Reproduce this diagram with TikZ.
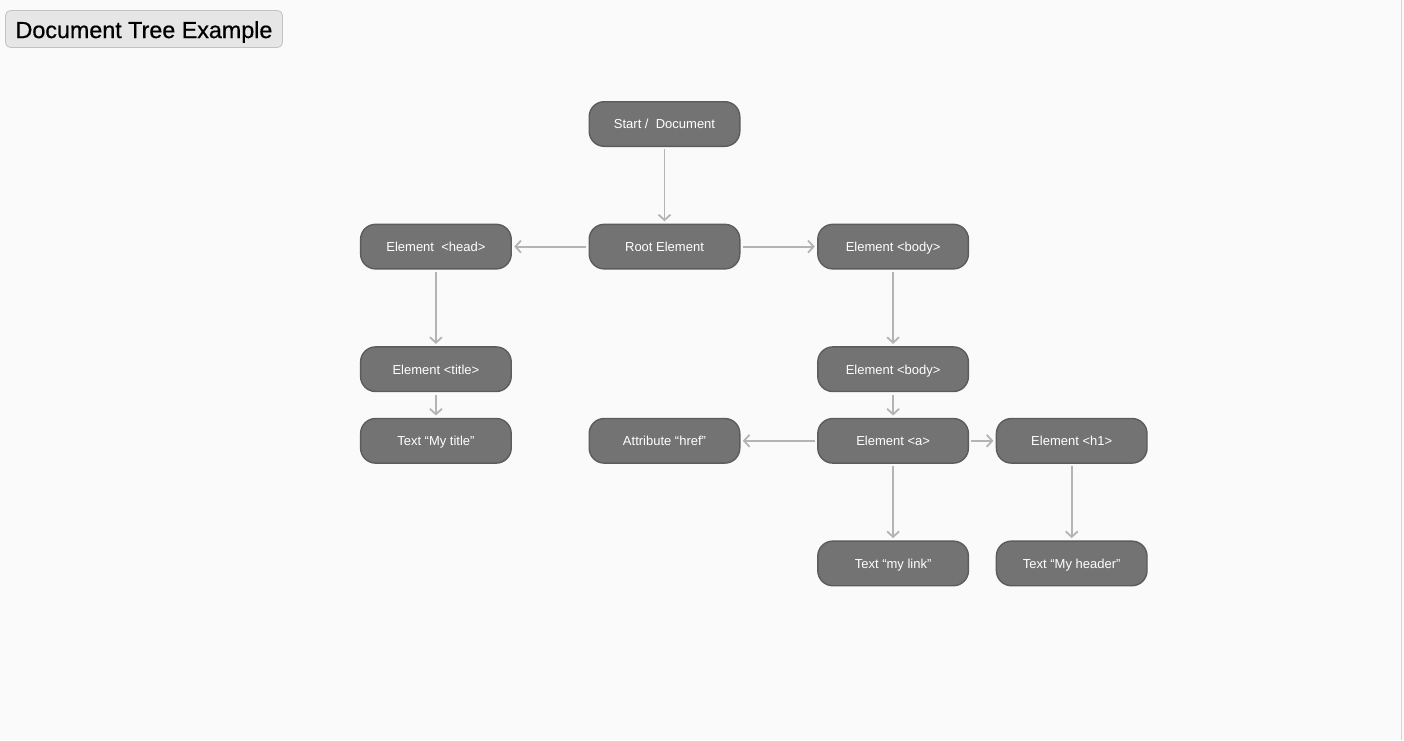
\documentclass[tikz,border=0pt]{standalone}
\usepackage{fontspec}
\setmainfont{Liberation Sans}
\newfontfamily\headfont[FakeBold=0.6]{Liberation Sans}
\usetikzlibrary{arrows.meta,positioning}

\definecolor{nodefill}{HTML}{737373}
\definecolor{nodeline}{HTML}{5C5C5C}
\definecolor{arrowgray}{HTML}{B4B4B4}
\definecolor{pagebg}{HTML}{FAFAFA}
\definecolor{titlefill}{HTML}{E6E6E6}
\definecolor{titleline}{HTML}{C2C2C2}

\begin{document}
\begin{tikzpicture}[x=1pt,y=-1pt,node distance=78pt,>={Straight Barb[length=5.5pt,width=12pt,line width=1.8pt]},every node/.append style={align=center},elem/.style={draw=nodeline,line width=1.4pt,outer sep=0pt,fill=nodefill,rounded corners=15pt,minimum width=150.6pt,minimum height=44.6pt,text=white,text height=11pt,text depth=1.4pt,font=\fontsize{13}{15}\selectfont},link/.style={->,draw=arrowgray,line width=1.8pt,shorten <=3pt,shorten >=3pt}]
    \fill[pagebg] (0,0) rectangle (1404,740);
    \useasboundingbox (0,0) rectangle (1404,740);
    \draw[titleline!70,line width=1pt] (1401.5,0) -- (1401.5,740);

    \node [draw=titleline,fill=titlefill,rounded corners=5pt,line width=0.8pt,minimum width=277pt,minimum height=37pt,text height=19.5pt,text depth=1.4pt,font=\headfont\fontsize{23.3}{26}\selectfont] (title) at (144,29) {Document Tree Example};

    \node [elem] (start) at (664.5,124) {Start /\ \ Document};
    \node [elem, below=of start] (root)  {Root Element};
    \node [elem, left=of root]   (head)  {Element\ \ {<}head{>}};
    \node [elem, right=of root]  (body)  {Element {<}body{>}};
    \node [elem, below=of head]  (ttl)   {Element {<}title{>}};
    \node [elem, below=of body]  (body2) {Element {<}body{>}};
    \node [elem, below=27pt of ttl]   (ttltext) {Text “My title”};
    \node [elem, below=27pt of body2] (a)       {Element {<}a{>}};
    \node [elem, left=of a]           (href)    {Attribute “href”};
    \node [elem, right=28pt of a]     (h1)      {Element {<}h1{>}};
    \node [elem, below=of a]          (linktext) {Text “my link”};
    \node [elem, below=of h1]         (headtext) {Text “My header”};

    \path[link] (start) edge (root)
                (root) edge (head)
                (root) edge (body)
                (head) edge (ttl)
                (ttl) edge (ttltext)
                (body) edge (body2)
                (body2) edge (a)
                (a) edge (href)
                (a) edge (h1)
                (a) edge (linktext)
                (h1) edge (headtext);
\end{tikzpicture}
\end{document}
